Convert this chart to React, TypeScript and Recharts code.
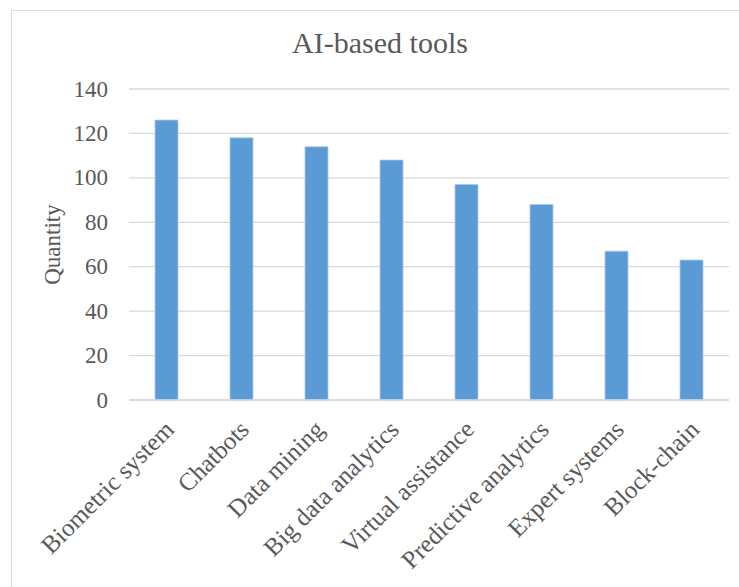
import React from "react";
import { BarChart, Bar, XAxis, YAxis, CartesianGrid } from "recharts";

const categories = [
  "Biometric system",
  "Chatbots",
  "Data mining",
  "Big data analytics",
  "Virtual assistance",
  "Predictive analytics",
  "Expert systems",
  "Block-chain",
];
const quantities = [126, 118, 114, 108, 97, 88, 67, 63];
const yTicks = [0, 20, 40, 60, 80, 100, 120, 140];

const data = categories.map((name, i) => ({ name, value: quantities[i] }));

const FONT = '"Liberation Serif", "Times New Roman", serif';
const TEXT = "#595959";

const XTick = (props: any) => {
  const { x, y, payload } = props;
  return (
    <g transform={`translate(${x + 9},${y + 23})`}>
      <text
        transform="rotate(-45)"
        textAnchor="end"
        fontFamily={FONT}
        fontSize={25}
        fill={TEXT}
      >
        {payload.value}
      </text>
    </g>
  );
};

const YTick = (props: any) => {
  const { x, y, payload } = props;
  return (
    <text
      x={x}
      y={y}
      textAnchor="end"
      dominantBaseline="central"
      fontFamily={FONT}
      fontSize={23}
      fill={TEXT}
    >
      {payload.value}
    </text>
  );
};

const YLabel = (props: any) => {
  const { viewBox } = props;
  const cx = viewBox.x + 52;
  const cy = viewBox.y + viewBox.height / 2;
  return (
    <text
      x={cx}
      y={cy}
      transform={`rotate(-90, ${cx}, ${cy})`}
      textAnchor="middle"
      dominantBaseline="central"
      fontFamily={FONT}
      fontSize={23}
      fill={TEXT}
    >
      Quantity
    </text>
  );
};

export default function App() {
  return (
    <div
      style={{
        position: "absolute",
        left: 0,
        top: 0,
        width: 739,
        height: 587,
        overflow: "hidden",
        background: "#fff",
      }}
    >
      <div
        style={{
          position: "absolute",
          left: 11,
          top: 10,
          width: 800,
          height: 700,
          border: "1.5px solid #d9d9d9",
          boxSizing: "border-box",
        }}
      />
      <div
        style={{
          position: "absolute",
          left: 11,
          width: 738,
          top: 28,
          textAlign: "center",
          fontFamily: FONT,
          fontSize: 30,
          color: TEXT,
          lineHeight: "30px",
        }}
      >
        AI-based tools
      </div>
      <div style={{ position: "absolute", left: 0, top: 0 }}>
        <BarChart
          width={739}
          height={587}
          data={data}
          margin={{ top: 89, right: 10, bottom: 0, left: 0 }}
          barCategoryGap={26}
        >
          <CartesianGrid vertical={false} stroke="#d9d9d9" strokeWidth={1.3} />
          <XAxis
            dataKey="name"
            interval={0}
            axisLine={{ stroke: "#d9d9d9", strokeWidth: 1.3 }}
            tickLine={false}
            tick={<XTick />}
            height={187}
          />
          <YAxis
            width={129}
            domain={[0, 140]}
            ticks={yTicks}
            interval={0}
            axisLine={false}
            tickLine={false}
            tickSize={0}
            tickMargin={21}
            tick={<YTick />}
            label={<YLabel />}
          />
          <Bar
            dataKey="value"
            fill="#5b9bd5"
            stroke="#a9c8ea"
            strokeWidth={0.8}
            isAnimationActive={false}
          />
        </BarChart>
      </div>
    </div>
  );
}
